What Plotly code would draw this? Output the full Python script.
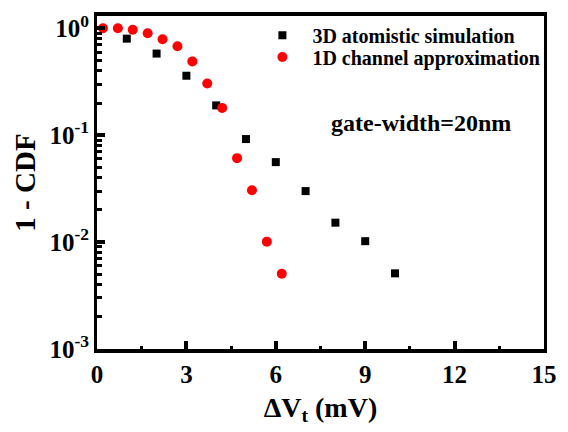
import plotly.graph_objects as go

# 3D atomistic simulation results
atom_dv = [1, 2, 3, 4, 5, 6, 7, 8, 9, 10]
atom_ccdf = [0.8, 0.58, 0.36, 0.19, 0.092, 0.056, 0.030, 0.0152, 0.0102, 0.0051]

# 1D channel approximation
chan_dv = [0.2, 0.7, 1.2, 1.7, 2.2, 2.7, 3.2, 3.7, 4.2, 4.7, 5.2, 5.7, 6.2]
chan_ccdf = [1.0, 1.0, 0.97, 0.9, 0.79, 0.68, 0.49, 0.305, 0.18, 0.061, 0.0305, 0.0101, 0.00505]

x_ticks = [0, 3, 6, 9, 12, 15]
y_ticks = [1e-3, 1e-2, 1e-1, 1]
y_ticklabels = ["10<sup>-3</sup>", "10<sup>-2</sup>", "10<sup>-1</sup>", "10<sup>0</sup>"]

FONT = "Liberation Serif"
GAP = "\u2002"

fig = go.Figure()
fig.add_trace(go.Scatter(
    x=atom_dv, y=atom_ccdf, mode="markers",
    name=GAP + "3D atomistic simulation", legend="legend",
    marker=dict(symbol="square", size=8, color="black"),
))
fig.add_trace(go.Scatter(
    x=chan_dv, y=chan_ccdf, mode="markers",
    name=GAP + "1D channel approximation", legend="legend2",
    marker=dict(symbol="circle", size=10, color="red"),
))

axis_common = dict(
    showline=True, linecolor="black", mirror=True,
    ticks="inside", tickwidth=3.5, ticklen=8, tickcolor="black",
    showgrid=False, zeroline=False,
    tickfont=dict(family=FONT, size=25, color="black", weight="bold"),
)

fig.update_xaxes(
    range=[0, 15], tickmode="array", tickvals=x_ticks, linewidth=4,
    minor=dict(ticks="inside", dtick=1.5, tick0=0, ticklen=3.5, tickwidth=3, tickcolor="black", showgrid=False),
    title=dict(text="ΔV<sub>t</sub> (mV)", font=dict(family=FONT, size=28, color="black", weight="bold"), standoff=11),
    **axis_common,
)
fig.update_yaxes(
    type="log", range=[-3, 0.115], tickmode="array", tickvals=y_ticks, ticktext=y_ticklabels, linewidth=3,
    minor=dict(ticks="inside", dtick="D1", ticklen=5, tickwidth=2.5, tickcolor="black", showgrid=False),
    title=dict(text="1 - CDF", font=dict(family=FONT, size=29, color="black", weight="bold"), standoff=6),
    **axis_common,
)

fig.add_annotation(
    x=0.725, y=0.678, xref="paper", yref="paper", xanchor="center", yanchor="middle",
    text="gate-width=20nm", showarrow=False,
    font=dict(family=FONT, size=24, color="black", weight="bold"),
)

legend_style = dict(
    xanchor="left", yanchor="middle",
    bgcolor="rgba(0,0,0,0)", borderwidth=0,
    font=dict(family=FONT, size=20, color="black", weight="bold"),
    itemsizing="trace",
)

fig.update_layout(
    width=568, height=432,
    margin=dict(l=97, r=14, t=11, b=83),
    paper_bgcolor="white", plot_bgcolor="white",
    showlegend=True,
    legend=dict(x=0.370, y=0.942, **legend_style),
    legend2=dict(x=0.370, y=0.877, **legend_style),
)

fig.write_html("out.html")
